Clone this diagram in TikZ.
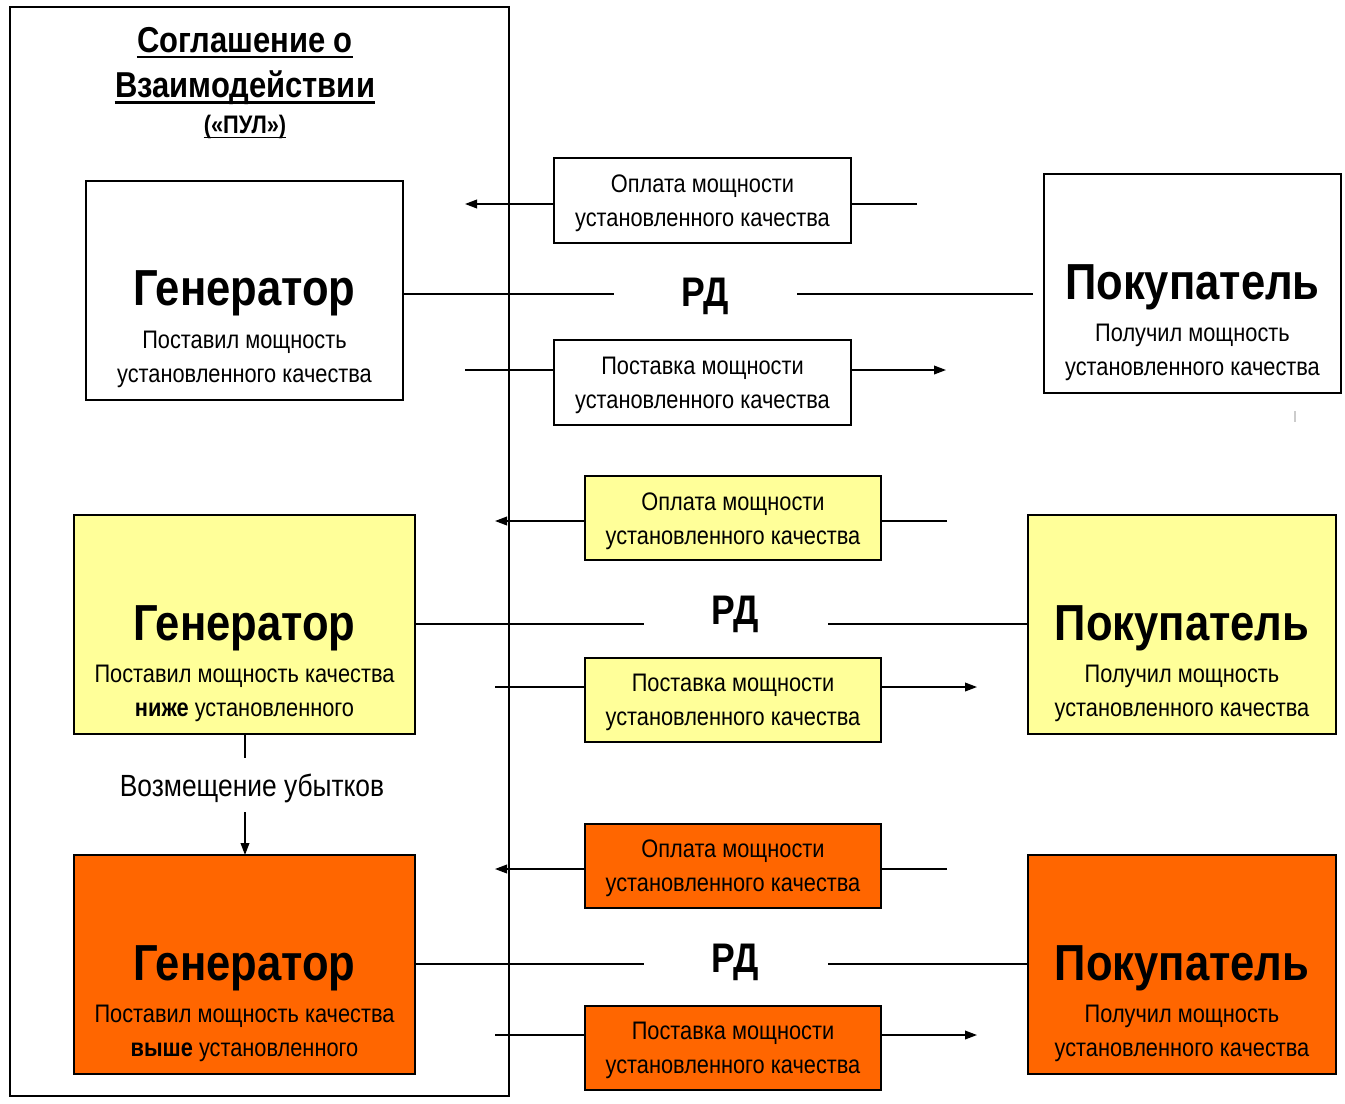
\documentclass[tikz,border=0pt]{standalone}
\usepackage{fontspec}
\setmainfont{Liberation Sans}[FakeStretch=0.86]
\usetikzlibrary{arrows.meta}
\definecolor{yel}{HTML}{FFFF99}
\definecolor{org}{HTML}{FF6600}
\begin{document}
\begin{tikzpicture}[x=0.75pt,y=-0.75pt,
  box/.style={draw=black,line width=1.5pt,inner sep=0pt,outer sep=0pt},
  ln/.style={line width=1.2pt},
  arr/.style={line width=1.2pt,-{Triangle[length=9pt,width=6.5pt]}},
  big/.style={font=\fontsize{38}{40}\selectfont\bfseries,inner sep=0pt},
  body/.style={font=\fontsize{19}{25.5}\selectfont,align=center,inner sep=0pt},
  rd/.style={font=\fontsize{31}{33}\selectfont\bfseries,inner sep=0pt},
  ttl/.style={font=\fontsize{27}{36}\selectfont\bfseries,inner sep=0pt}]
\useasboundingbox (0,0) rectangle (1345,1103);
% outer agreement box
\node[box,minimum width=374.25pt,minimum height=816.75pt] (pul) at (259.5,551.5) {};
\node[ttl] (t1) at (245,40) {Соглашение о};
\node[ttl] (t2) at (245,88) {Взаимодействии};
\node[font=\fontsize{19}{22}\selectfont\bfseries,inner sep=0pt] (t3) at (245,127) {(«ПУЛ»)};
\draw[line width=1.8pt] ([yshift=-3.5pt]t1.base west) -- ([yshift=-3.5pt]t1.base east);
\draw[line width=1.8pt] ([yshift=-3.5pt]t2.base west) -- ([yshift=-3.5pt]t2.base east);
\draw[line width=1.3pt] ([yshift=-3pt]t3.base west) -- ([yshift=-3pt]t3.base east);

% ===== Row 1 =====
\node[box,fill=white,minimum width=237.75pt,minimum height=164.25pt] (g1) at (244.5,290.5) {};
\node[big] (g1t) at (244.5,293) {Генератор};
\node[body] (g1b) at (244.5,359) {Поставил мощность\\установленного качества};
\node[box,fill=white,minimum width=222.75pt,minimum height=63.75pt] (p1) at (702.5,200.5) {};
\node[body] (p1t) at (702.5,203) {Оплата мощности\\установленного качества};
\node[box,fill=white,minimum width=222.75pt,minimum height=63.75pt] (s1) at (702.5,382.5) {};
\node[body] (s1t) at (702.5,385) {Поставка мощности\\установленного качества};
\node[box,fill=white,minimum width=222.75pt,minimum height=164.25pt] (b1) at (1192.5,283.5) {};
\node[big] (b1t) at (1192.5,287) {Покупатель};
\node[body] (b1b) at (1192.5,352) {Получил мощность\\установленного качества};
\node[rd] (rd1) at (705,296) {РД};
\coordinate (p1l) at (465,204); \coordinate (p1r) at (917,204);
\coordinate (s1l) at (465,370); \coordinate (s1r) at (946,370);
\coordinate (r1a) at (614,294); \coordinate (r1b) at (797,294); \coordinate (r1c) at (1033,294);
\draw[arr] (p1.west |- p1l) -- (p1l);
\draw[ln] (p1r) -- (p1.east |- p1r);
\draw[ln] (s1l) -- (s1.west |- s1l);
\draw[arr] (s1.east |- s1r) -- (s1r);
\draw[ln] (g1.east |- r1a) -- (r1a);
\draw[ln] (r1b) -- (r1c);

% ===== Row 2 =====
\node[box,fill=yel,minimum width=255.75pt,minimum height=164.25pt] (g2) at (244.5,624.5) {};
\node[big] (g2t) at (244.5,628) {Генератор};
\node[body] (g2b) at (244.5,693) {Поставил мощность качества\\\textbf{ниже} установленного};
\node[box,fill=yel,minimum width=231pt,minimum height=164.25pt] (b2) at (1182,624.5) {};
\node[big] (b2t) at (1182,628) {Покупатель};
\node[body] (b2b) at (1182,693) {Получил мощность\\установленного качества};
\node[box,fill=yel,minimum width=222pt,minimum height=63pt] (p2) at (733,518) {};
\node[body] (p2t) at (733,521) {Оплата мощности\\установленного качества};
\node[box,fill=yel,minimum width=222pt,minimum height=63pt] (s2) at (733,699.5) {};
\node[body] (s2t) at (733,702.5) {Поставка мощности\\установленного качества};
\node[rd] (rd2) at (735,614) {РД};
\coordinate (p2l) at (495,521); \coordinate (p2r) at (947,521);
\coordinate (s2l) at (495,687); \coordinate (s2r) at (977,687);
\coordinate (r2a) at (644,624); \coordinate (r2b) at (828,624);
\draw[arr] (p2.west |- p2l) -- (p2l);
\draw[ln] (p2r) -- (p2.east |- p2r);
\draw[ln] (s2l) -- (s2.west |- s2l);
\draw[arr] (s2.east |- s2r) -- (s2r);
\draw[ln] (g2.east |- r2a) -- (r2a);
\draw[ln] (r2b) -- (b2.west |- r2b);

% ===== Row 3 =====
\node[box,fill=org,minimum width=255.75pt,minimum height=164.25pt] (g3) at (244.5,964.5) {};
\node[big] (g3t) at (244.5,968) {Генератор};
\node[body] (g3b) at (244.5,1033) {Поставил мощность качества\\\textbf{выше} установленного};
\node[box,fill=org,minimum width=231pt,minimum height=164.25pt] (b3) at (1182,964.5) {};
\node[big] (b3t) at (1182,968) {Покупатель};
\node[body] (b3b) at (1182,1033) {Получил мощность\\установленного качества};
\node[box,fill=org,minimum width=222pt,minimum height=63pt] (p3) at (733,865.5) {};
\node[body] (p3t) at (733,868.5) {Оплата мощности\\установленного качества};
\node[box,fill=org,minimum width=222pt,minimum height=63pt] (s3) at (733,1047.5) {};
\node[body] (s3t) at (733,1050.5) {Поставка мощности\\установленного качества};
\node[rd] (rd3) at (735,962) {РД};
\coordinate (p3l) at (495,869); \coordinate (p3r) at (947,869);
\coordinate (s3l) at (495,1035); \coordinate (s3r) at (977,1035);
\coordinate (r3a) at (644,964); \coordinate (r3b) at (828,964);
\draw[arr] (p3.west |- p3l) -- (p3l);
\draw[ln] (p3r) -- (p3.east |- p3r);
\draw[ln] (s3l) -- (s3.west |- s3l);
\draw[arr] (s3.east |- s3r) -- (s3r);
\draw[ln] (g3.east |- r3a) -- (r3a);
\draw[ln] (r3b) -- (b3.west |- r3b);

% compensation
\node[font=\fontsize{23}{25}\selectfont,inner sep=0pt] (comp) at (252,788) {Возмещение убытков};
\coordinate (c1) at (245,758); \coordinate (c2) at (245,812);
\draw[ln] (g2.south -| c1) -- (c1);
\draw[arr] (c2) -- (g3.north -| c2);

% small grey mark
\fill[gray!40] (1294,411) rectangle (1296,422);
\end{tikzpicture}
\end{document}
